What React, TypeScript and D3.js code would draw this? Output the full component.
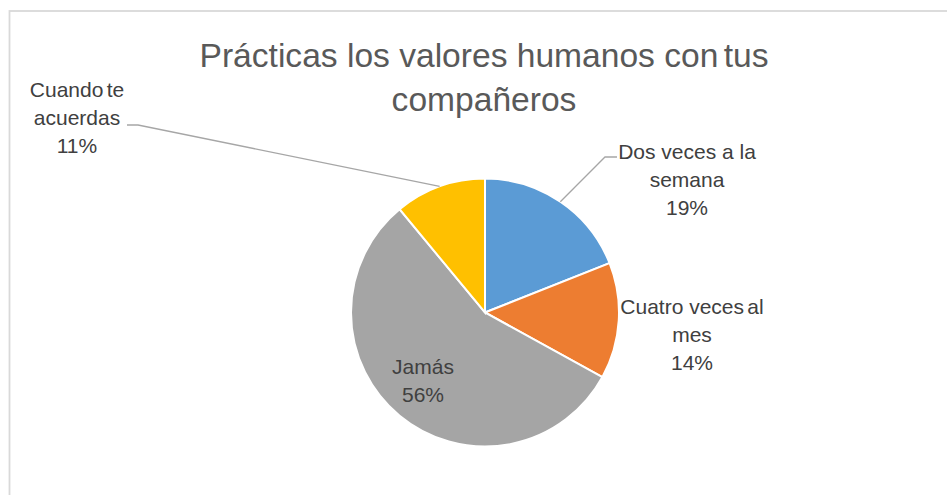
import React from "react";
import * as d3 from "d3";

const categories = ["Dos veces a la semana", "Cuatro veces al mes", "Jamás", "Cuando te acuerdas"];
const values = [19, 14, 56, 11];
// each label line: [main text, narrow-gap tail]
const labelLines: [string, string][][] = [
  [["Dos veces a la", ""], ["semana", ""], ["19%", ""]],
  [["Cuatro veces", " al"], ["mes", ""], ["14%", ""]],
  [["Jamás", ""], ["56%", ""]],
  [["Cuando", " te"], ["acuerdas", ""], ["11%", ""]],
];
const colors = ["#5B9BD5", "#ED7D31", "#A5A5A5", "#FFC000"];
const titleLines: [string, string][] = [
  ["Prácticas los valores humanos con", " tus"],
  ["compañeros", ""],
];

// label layout: center x, first baseline y, optional leader elbow/end
const labelLayout = [
  { x: 687, y: 159, leader: [[605, 157], [617, 157]] },
  { x: 692, y: 314, leader: null },
  { x: 423, y: 374, leader: null },
  { x: 77, y: 97, leader: [[138, 125], [127, 125]] },
];

const W = 947;
const H = 495;
const cx = 485;
const cy = 312.5;
const R = 134;

export default function App() {
  const pie = d3.pie<number>().sort(null).value((d) => d)(values);
  const arc = d3.arc<d3.PieArcDatum<number>>().innerRadius(0).outerRadius(R);
  const font = "'Liberation Sans', Arial, sans-serif";
  return (
    <svg
      width={W}
      height={H}
      style={{ position: "absolute", left: 0, top: 0, display: "block", background: "#fff" }}
    >
      <rect x={9.5} y={11} width={W + 20} height={H + 20} fill="#fff" stroke="#D9D9D9" strokeWidth={1.8} />
      <g fontFamily={font} fill="#595959" fontSize={33.6} textAnchor="middle">
        {titleLines.map((t, i) => (
          <text key={i} x={484} y={67 + i * 44}>
            {t[0]}
            {t[1] ? <tspan wordSpacing={-4}>{t[1]}</tspan> : null}
          </text>
        ))}
      </g>
      <g transform={`translate(${cx},${cy})`}>
        {pie.map((p, i) => (
          <path key={categories[i]} d={arc(p) || ""} fill={colors[i]} stroke="#fff" strokeWidth={2} />
        ))}
      </g>
      {pie.map((p, i) => {
        const L = labelLayout[i];
        if (!L.leader) return null;
        const mid = (p.startAngle + p.endAngle) / 2;
        const sx = cx + R * Math.sin(mid);
        const sy = cy - R * Math.cos(mid);
        const pts: [number, number][] = [[sx, sy], ...(L.leader as [number, number][])];
        return (
          <path
            key={"l" + i}
            d={d3.line()(pts) || ""}
            fill="none"
            stroke="#A6A6A6"
            strokeWidth={1.3}
          />
        );
      })}
      <g fontFamily={font} fill="#404040" fontSize={21} textAnchor="middle">
        {labelLines.map((lines, i) =>
          lines.map((ln, j) => (
            <text key={i + "-" + j} x={labelLayout[i].x} y={labelLayout[i].y + j * 28}>
              {ln[0]}
              {ln[1] ? <tspan wordSpacing={-2.5}>{ln[1]}</tspan> : null}
            </text>
          ))
        )}
      </g>
    </svg>
  );
}
